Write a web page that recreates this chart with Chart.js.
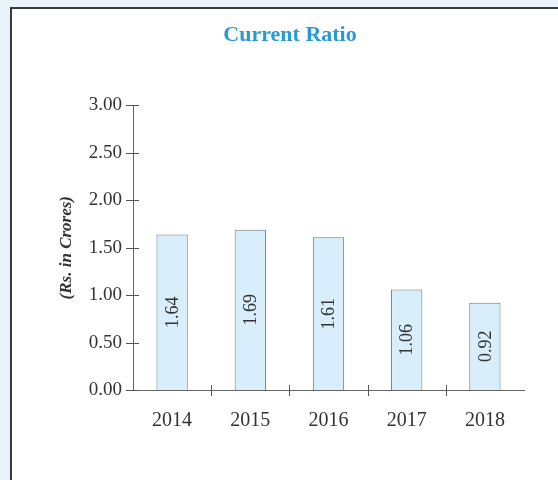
<!DOCTYPE html>
<html>
<head>
<meta charset="utf-8">
<script src="https://cdn.jsdelivr.net/npm/chart.js@4/dist/chart.umd.min.js"></script>
<style>
  html, body { margin: 0; padding: 0; overflow: hidden; }
  body { width: 558px; height: 480px; background: #e9f1f9; position: relative; }
  #panel {
    position: absolute; left: 10px; top: 7px; width: 560px; height: 480px;
    background: #ffffff; border-left: 2px solid #3a3a3a; border-top: 2px solid #3a3a3a;
  }
  #chart { position: absolute; left: 0; top: 0; }
</style>
</head>
<body>
<div id="panel"></div>
<canvas id="chart" width="558" height="480"></canvas>
<script>
// Current ratio by financial year
const years = ['2014', '2015', '2016', '2017', '2018'];
const ratios = [1.64, 1.69, 1.61, 1.06, 0.92];
const yTicks = [0, 0.5, 1, 1.5, 2, 2.5, 3];

const SERIF = '"Liberation Serif", "Times New Roman", serif';
const INK = '#333333';

// Short tick marks crossing both axes
const axisTicks = {
  id: 'axisTicks',
  afterDraw(chart) {
    const { ctx, chartArea } = chart;
    const x = chart.scales.x, y = chart.scales.y;
    ctx.save();
    ctx.strokeStyle = '#555';
    ctx.lineWidth = 1;
    ctx.beginPath();
    yTicks.forEach(v => {
      const py = Math.round(y.getPixelForValue(v)) + 0.5;
      ctx.moveTo(chartArea.left - 7, py);
      ctx.lineTo(chartArea.left + 6, py);
    });
    for (let i = 1; i < years.length; i++) {
      const px = Math.round((x.getPixelForTick(i - 1) + x.getPixelForTick(i)) / 2) + 0.5;
      ctx.moveTo(px, chartArea.bottom - 5);
      ctx.lineTo(px, chartArea.bottom + 6);
    }
    ctx.stroke();
    ctx.restore();
  }
};

// Value written vertically inside each bar
const barValues = {
  id: 'barValues',
  afterDatasetsDraw(chart) {
    const { ctx } = chart;
    const meta = chart.getDatasetMeta(0);
    ctx.save();
    ctx.fillStyle = INK;
    ctx.font = '18px ' + SERIF;
    ctx.textAlign = 'center';
    ctx.textBaseline = 'middle';
    meta.data.forEach((bar, i) => {
      const cy = (bar.y + bar.base) / 2;
      ctx.save();
      ctx.translate(bar.x, cy);
      ctx.rotate(-Math.PI / 2);
      ctx.fillText(ratios[i].toFixed(2), 0, 1);
      ctx.restore();
    });
    ctx.restore();
  }
};

new Chart(document.getElementById('chart'), {
  type: 'bar',
  data: {
    labels: years,
    datasets: [{
      data: ratios,
      backgroundColor: '#d8eefb',
      borderColor: '#6c7a82',
      borderWidth: 1,
      barPercentage: 0.4,
      categoryPercentage: 1.0
    }]
  },
  plugins: [axisTicks, barValues],
  options: {
    responsive: false,
    animation: false,
    events: [],
    layout: { padding: { left: 56, right: 34, top: 22, bottom: 0 } },
    plugins: {
      legend: { display: false },
      tooltip: { enabled: false },
      title: {
        display: true,
        text: 'Current Ratio',
        color: '#2a9ad6',
        font: { family: SERIF, size: 22, weight: 'bold' },
        padding: { top: 0, bottom: 57 }
      }
    },
    scales: {
      x: {
        grid: { display: false, drawTicks: false },
        border: { display: true, color: '#666', width: 1 },
        ticks: { color: INK, font: { family: SERIF, size: 20 }, padding: 19 },
        afterFit(scale) { scale.height = 90; }
      },
      y: {
        min: 0,
        max: 3,
        afterBuildTicks(scale) { scale.ticks = yTicks.map(v => ({ value: v })); },
        grid: { display: false, drawTicks: false },
        border: { display: true, color: '#666', width: 1 },
        ticks: {
          color: INK,
          font: { family: SERIF, size: 19 },
          padding: 11,
          callback: v => Number(v).toFixed(2)
        },
        title: {
          display: true,
          text: '(Rs. in Crores)',
          color: INK,
          font: { family: SERIF, size: 17, style: 'italic', weight: 'bold' },
          padding: { top: 0, bottom: 0 }
        },
        afterFit(scale) { scale.width = 77; }
      }
    }
  }
});
</script>
</body>
</html>
